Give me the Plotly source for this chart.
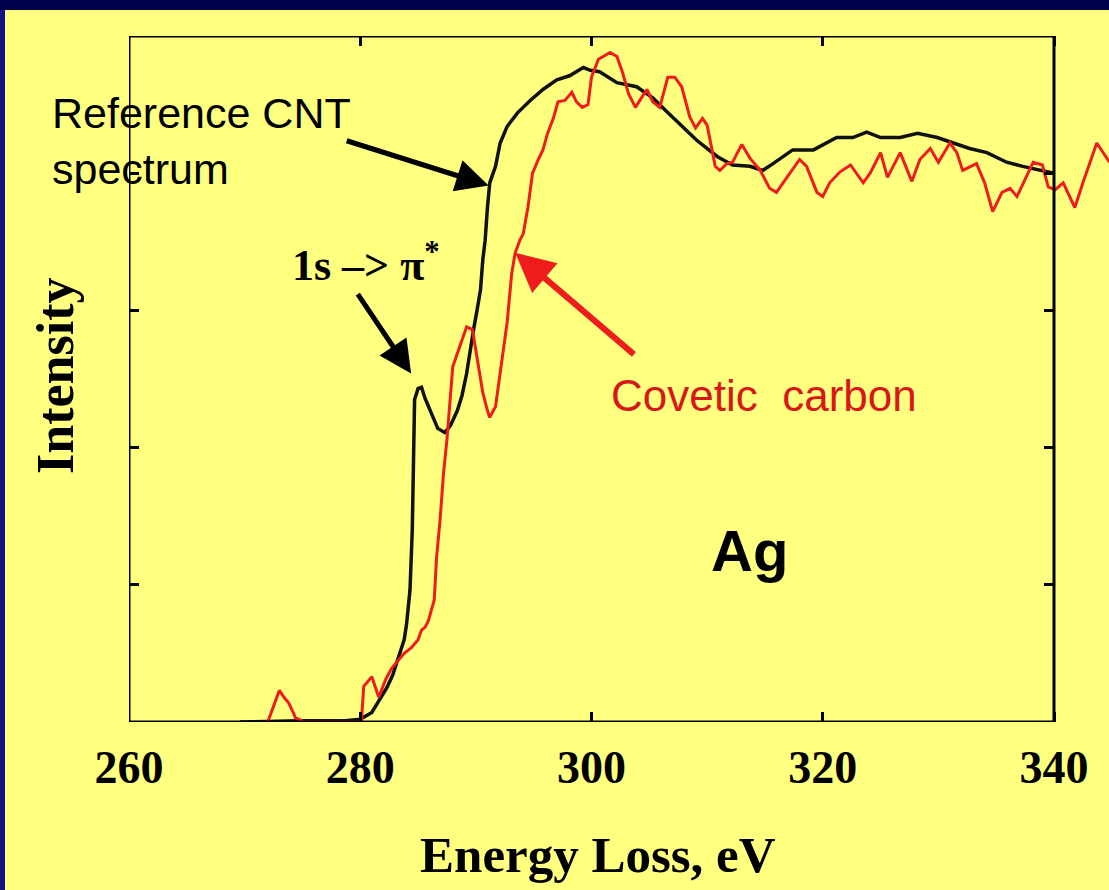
import plotly.graph_objects as go

# ---------------- data ----------------
cnt_energy = [269.6, 274.8, 278.7, 280.0, 281.0, 281.6, 282.3, 282.8, 283.4, 283.8,
              284.0, 284.3, 284.5, 284.6, 284.7, 285.0, 285.3, 285.6, 286.2, 286.7,
              287.3, 287.8, 288.4, 288.8, 289.2, 289.5, 289.8, 290.1, 290.4, 290.6,
              290.8, 291.0, 291.2, 291.7, 292.1, 292.7, 293.6, 294.7, 295.8, 297.0,
              298.1, 299.3, 299.9, 300.7, 302.2, 303.9, 305.3, 306.5, 307.7, 309.1,
              310.9, 312.2, 313.7, 314.8, 315.7, 317.4, 319.2, 320.4, 321.2, 322.6,
              323.8, 325.0, 326.7, 328.2, 329.9, 331.3, 332.7, 334.2, 335.9, 337.3,
              338.8, 340.0]
cnt_intensity = [0.00, 0.01, 0.01, 0.02, 0.07, 0.15, 0.25, 0.34, 0.49, 0.60,
                 0.71, 0.96, 1.40, 1.98, 2.35, 2.43, 2.44, 2.36, 2.24, 2.14,
                 2.11, 2.16, 2.27, 2.38, 2.54, 2.71, 2.86, 3.00, 3.15, 3.37,
                 3.51, 3.75, 3.93, 4.05, 4.22, 4.34, 4.44, 4.53, 4.61, 4.68,
                 4.71, 4.77, 4.75, 4.74, 4.66, 4.63, 4.55, 4.45, 4.35, 4.24,
                 4.12, 4.06, 4.05, 4.02, 4.07, 4.17, 4.17, 4.22, 4.26, 4.26,
                 4.30, 4.26, 4.26, 4.29, 4.26, 4.22, 4.18, 4.15, 4.08, 4.05,
                 4.02, 4.00]

covetic_energy = [272.0, 272.5, 273.0, 273.4, 273.8, 274.2, 274.4, 275.2, 277.4, 280.1,
                  280.3, 280.8, 281.0, 281.6, 282.2, 282.7, 283.1, 283.8, 284.4, 285.0,
                  285.3, 285.6, 285.9, 286.2, 286.4, 286.6, 286.9, 287.2, 287.5, 288.0,
                  288.5, 288.9, 289.2, 289.7, 290.1, 290.6, 291.0, 291.2, 291.7, 292.1,
                  292.4, 292.7, 293.1, 293.4, 293.8, 294.1, 294.5, 294.9, 295.4, 295.8,
                  296.2, 296.7, 297.1, 297.7, 298.3, 298.7, 299.2, 299.7, 300.0, 300.6,
                  301.2, 301.6, 302.2, 302.7, 303.2, 303.8, 304.4, 304.8, 305.3, 305.9,
                  306.6, 307.2, 307.8, 308.5, 309.0, 309.6, 310.0, 310.7, 311.1, 311.7,
                  312.2, 313.0, 313.7, 314.6, 315.4, 316.0, 316.9, 318.0, 318.6, 319.5,
                  320.0, 320.6, 321.5, 322.4, 323.5, 324.1, 325.0, 325.6, 326.7, 327.7,
                  328.4, 329.3, 330.0, 331.0, 331.6, 332.1, 333.3, 334.0, 334.7, 335.5,
                  336.2, 336.8, 338.2, 339.0, 339.5, 340.1, 340.8, 341.8, 342.5, 343.7,
                  344.8]
covetic_intensity = [0.00, 0.12, 0.23, 0.18, 0.14, 0.07, 0.03, 0.00, 0.00, 0.00,
                     0.26, 0.31, 0.33, 0.18, 0.31, 0.39, 0.43, 0.50, 0.54, 0.60,
                     0.67, 0.69, 0.74, 0.82, 0.89, 1.20, 1.47, 1.81, 2.06, 2.59,
                     2.71, 2.82, 2.88, 2.86, 2.66, 2.40, 2.27, 2.22, 2.30, 2.54,
                     2.75, 2.91, 3.27, 3.42, 3.51, 3.56, 3.75, 4.00, 4.10, 4.17,
                     4.29, 4.40, 4.52, 4.53, 4.59, 4.52, 4.48, 4.50, 4.70, 4.83,
                     4.86, 4.88, 4.85, 4.73, 4.58, 4.48, 4.56, 4.61, 4.52, 4.48,
                     4.70, 4.70, 4.63, 4.41, 4.33, 4.40, 4.35, 4.05, 4.02, 4.07,
                     4.08, 4.21, 4.11, 4.02, 3.89, 3.86, 3.97, 4.10, 4.05, 3.86,
                     3.83, 3.93, 4.01, 4.06, 3.93, 4.00, 4.15, 3.97, 4.15, 3.94,
                     4.10, 4.18, 4.08, 4.22, 4.15, 4.02, 4.07, 3.93, 3.72, 3.86,
                     3.89, 3.83, 4.08, 4.06, 3.90, 3.88, 3.93, 3.75, 3.93, 4.22,
                     4.08]

x_tickvals = [260, 280, 300, 320, 340]
x_ticktext = ["260", "280", "300", "320", "340"]
y_tickvals = [1, 2, 3, 4]

# pointer arrows: (tip energy, tip intensity, tail energy, tail intensity)
arrow_cnt = (291.1, 3.91, 278.7, 4.24)
arrow_pi = (284.4, 2.54, 279.7, 3.13)
arrow_covetic = (293.4, 3.42, 303.8, 2.67)

# ---------------- layout geometry ----------------
W, H = 1109, 890
ML, MR, MT, MB = 129, 0, 36, 168
X_MIN, X_FRAME_MAX = 260, 340
PX_PER_EV = 925 / 80.0
X_MAX = X_MIN + (W - ML - MR) / PX_PER_EV
Y_MIN, Y_MAX = 0, 5

def pxx(p):  # pixel -> paper x
    return (p - ML) / (W - ML - MR)

def pxy(p):  # pixel -> paper y
    return (H - MB - p) / (H - MB - MT)

YELLOW = "#FFFF80"
RED = "#EE1C1C"
SERIF = "Liberation Serif, Times New Roman, serif"
SANS = "Liberation Sans, Arial, sans-serif"

fig = go.Figure()
fig.add_trace(go.Scatter(x=cnt_energy, y=cnt_intensity, mode="lines",
                         line=dict(color="#111111", width=3.5),
                         name="Reference CNT spectrum", showlegend=False,
                         xaxis="x", yaxis="y"))
fig.add_trace(go.Scatter(x=covetic_energy, y=covetic_intensity, mode="lines",
                         line=dict(color=RED, width=3),
                         name="Covetic carbon", showlegend=False,
                         xaxis="x", yaxis="y2"))

fig.update_layout(
    width=W, height=H,
    margin=dict(l=ML, r=MR, t=MT, b=MB, pad=0),
    paper_bgcolor=YELLOW, plot_bgcolor=YELLOW,
    showlegend=False,
    xaxis=dict(range=[X_MIN, X_MAX], tickvals=x_tickvals, ticktext=x_ticktext,
               ticks="inside", ticklen=10, tickwidth=3, tickcolor="black",
               mirror="ticks", showline=False, showgrid=False, zeroline=False,
               tickfont=dict(family=SERIF, size=46, color="black", weight="bold"),
               ticklabelstandoff=14, fixedrange=True),
    yaxis=dict(range=[Y_MIN, Y_MAX], tickvals=y_tickvals, showticklabels=False,
               ticks="inside", ticklen=10, tickwidth=3, tickcolor="black",
               showline=False, showgrid=False, zeroline=False, fixedrange=True),
    yaxis2=dict(range=[Y_MIN, Y_MAX], tickvals=y_tickvals, showticklabels=False,
                overlaying="y", side="right", anchor="free",
                position=(X_FRAME_MAX - X_MIN) / (X_MAX - X_MIN),
                ticks="inside", ticklen=10, tickwidth=3, tickcolor="black",
                showline=False, showgrid=False, zeroline=False, fixedrange=True),
)

shapes = [
    # plot frame
    dict(type="rect", xref="x", yref="y", x0=X_MIN, x1=X_FRAME_MAX, y0=Y_MIN, y1=Y_MAX,
         line=dict(color="black", width=3), layer="above"),
    # slide border (dark blue)
    dict(type="rect", xref="paper", yref="paper", x0=pxx(0), x1=pxx(5),
         y0=pxy(H), y1=pxy(0), line=dict(width=0), fillcolor="#10108A", layer="below"),
    dict(type="rect", xref="paper", yref="paper", x0=pxx(0), x1=pxx(W),
         y0=pxy(10), y1=pxy(0), line=dict(width=0), fillcolor="#00004A", layer="below"),
]
fig.update_layout(shapes=shapes)


def pointer(a, color, width):
    tip_x, tip_y, tail_x, tail_y = a
    return dict(text="", x=tip_x, y=tip_y, ax=tail_x, ay=tail_y, xref="x", yref="y",
                axref="x", ayref="y", showarrow=True, arrowhead=2, arrowsize=1.3,
                arrowwidth=width, arrowcolor=color, standoff=0)


annotations = [
    # axis titles
    dict(text="Energy Loss, eV", xref="paper", yref="paper", x=pxx(598), y=pxy(855),
         xanchor="center", yanchor="middle", showarrow=False,
         font=dict(family=SERIF, size=51, color="black", weight="bold")),
    dict(text="Intensity", xref="paper", yref="paper", x=pxx(55), y=pxy(376),
         xanchor="center", yanchor="middle", showarrow=False, textangle=-90,
         font=dict(family=SERIF, size=52, color="black", weight="bold")),
    # labels
    dict(text="Reference CNT<br>spectrum", xref="paper", yref="paper", x=pxx(50), y=pxy(141),
         xanchor="left", yanchor="middle", align="left", showarrow=False,
         font=dict(family=SANS, size=43, color="black")),
    dict(text="1s –> π<sup>*</sup>", xref="paper", yref="paper", x=pxx(290), y=pxy(262),
         xanchor="left", yanchor="middle", showarrow=False,
         font=dict(family=SERIF, size=44, color="black", weight="bold")),
    dict(text="Covetic  carbon", xref="paper", yref="paper", x=pxx(609), y=pxy(396),
         xanchor="left", yanchor="middle", showarrow=False,
         font=dict(family=SANS, size=44, color="#D81818")),
    dict(text="<b>Ag</b>", xref="paper", yref="paper", x=pxx(749), y=pxy(550),
         xanchor="center", yanchor="middle", showarrow=False,
         font=dict(family=SANS, size=58, color="black")),
    # arrows
    pointer(arrow_cnt, "black", 5),
    pointer(arrow_pi, "black", 5),
    pointer(arrow_covetic, RED, 6),
]
fig.update_layout(annotations=annotations)

fig.write_html("out.html", config={"displayModeBar": False})
